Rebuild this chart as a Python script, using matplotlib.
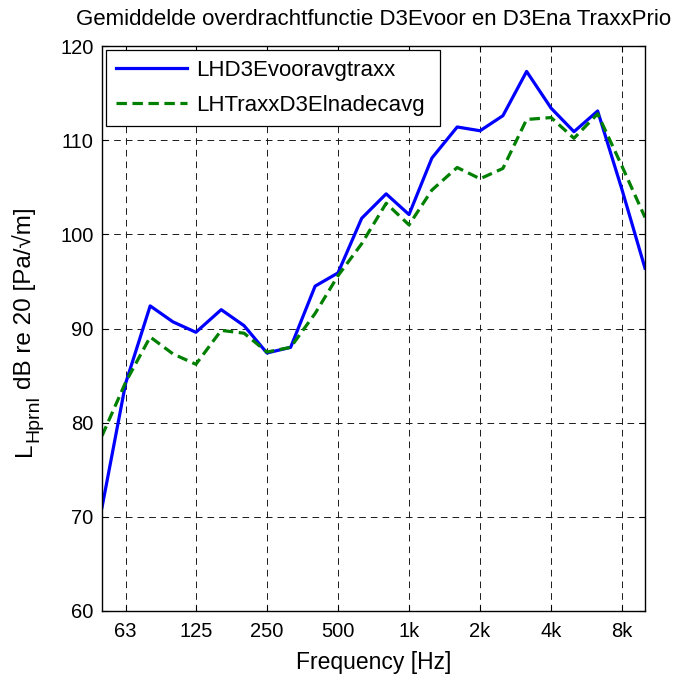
import matplotlib
matplotlib.use("Agg")
import matplotlib.pyplot as plt
from matplotlib.ticker import FixedLocator, FixedFormatter, NullLocator

plt.rcParams['font.family'] = ['Liberation Sans', 'DejaVu Sans']
plt.rcParams['lines.scale_dashes'] = False

# Third-octave band centre frequencies [Hz]
freqs = [50, 63, 80, 100, 125, 160, 200, 250, 315, 400, 500, 630, 800,
         1000, 1250, 1600, 2000, 2500, 3150, 4000, 5000, 6300, 8000, 10000]

lh_voor = [71.0, 84.2, 92.4, 90.7, 89.6, 92.0, 90.3, 87.4, 88.0, 94.5, 95.9,
           101.7, 104.3, 102.1, 108.1, 111.4, 111.0, 112.6, 117.3, 113.4,
           110.9, 113.1, 104.7, 96.4]

lh_na = [78.6, 84.3, 89.1, 87.3, 86.2, 89.8, 89.5, 87.5, 88.0, 91.6, 95.6,
         99.0, 103.3, 101.0, 104.7, 107.1, 105.9, 107.0, 112.2, 112.4,
         110.2, 112.8, 107.2, 101.8]

tick_freqs = [63, 125, 250, 500, 1000, 2000, 4000, 8000]
tick_labels = ['63', '125', '250', '500', '1k', '2k', '4k', '8k']

series_names = ['LHD3Evooravgtraxx', 'LHTraxxD3Elnadecavg']
title = 'Gemiddelde overdrachtfunctie D3Evoor en D3Ena TraxxPrio'
ylabel_parts = ('L', 'Hprnl', 'dB re 20 [Pa/\u221am]')

W, H = 678, 676
fig = plt.figure(figsize=(W / 100, H / 100), dpi=100)
ax = fig.add_axes([102 / W, 1 - 611 / H, 543 / W, 565 / H])

ax.plot(freqs, lh_voor, color=(0, 0, 1), lw=2.3, label=series_names[0])
ax.plot(freqs, lh_na, color=(0, 0.5, 0), lw=2.3, ls=(0, (7.5, 4.0)),
        label=series_names[1])

ax.set_xscale('log')
ax.set_xlim(50, 10000)
ax.set_ylim(60, 120)
ax.xaxis.set_major_locator(FixedLocator(tick_freqs))
ax.xaxis.set_major_formatter(FixedFormatter(tick_labels))
ax.xaxis.set_minor_locator(NullLocator())
ax.set_yticks(range(60, 121, 10))

ax.tick_params(axis='both', which='major', direction='in', length=4,
               width=0.8, labelsize=14.5, top=True, right=True)
ax.tick_params(axis='x', pad=8)
ax.tick_params(axis='y', pad=6)
ax.grid(True, which='major', color='#1a1a1a', ls=(0, (4.8, 3.6)), lw=0.7)
for s in ax.spines.values():
    s.set_linewidth(1.0)

ax.set_xlabel('Frequency [Hz]', fontsize=16.5, labelpad=7)
ax.set_title(title, fontsize=16, pad=15)

leg = ax.legend(loc='upper left', fontsize=16, handlelength=3.2,
                handletextpad=0.4, fancybox=False, framealpha=1,
                edgecolor='black', borderaxespad=0, borderpad=0.44,
                labelspacing=0.64, mode='expand',
                bbox_to_anchor=(4 / 543, 0.3, 334 / 543, 0.6929))
leg.get_frame().set_linewidth(0.9)

# y-axis label: main symbol, enlarged subscript, then the unit text
renderer = fig.canvas.get_renderer()
x_base = 31 / W
y_pos = (H - 456) / H
txt_kw = dict(rotation=90, rotation_mode='anchor', ha='left', va='baseline')
t1 = fig.text(x_base, y_pos, ylabel_parts[0], fontsize=17.5, **txt_kw)
y_pos += t1.get_window_extent(renderer).height / H
t2 = fig.text(x_base + 7 / W, y_pos, ylabel_parts[1], fontsize=14, **txt_kw)
y_pos += (t2.get_window_extent(renderer).height + 7) / H
fig.text(x_base, y_pos, ylabel_parts[2], fontsize=17.5, **txt_kw)

fig.savefig('out.png', dpi=100)
